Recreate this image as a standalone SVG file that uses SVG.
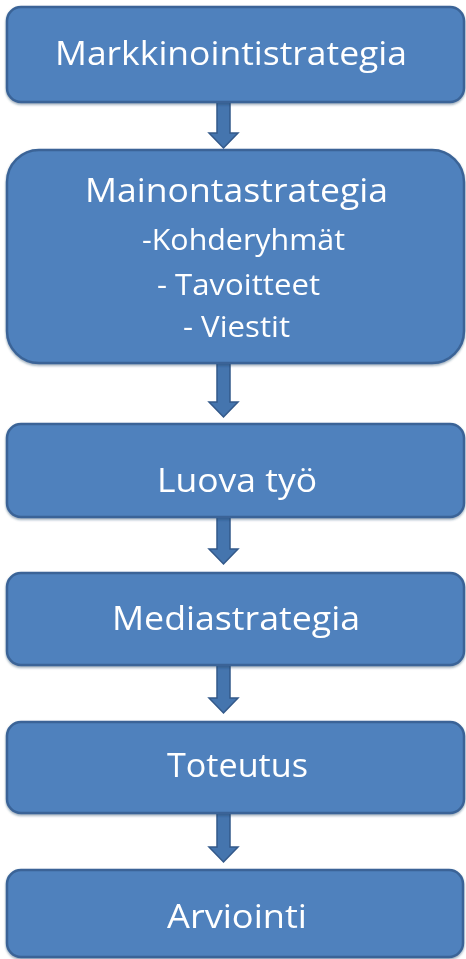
<svg xmlns="http://www.w3.org/2000/svg" width="466" height="959" viewBox="0 0 466 959">
  <style>
    .box { fill: #4F81BD; stroke: #3A6497; stroke-width: 2.5; }
    .lbl { fill: #FFFFFF; font-family: "Open Sans", "Liberation Sans", sans-serif; text-anchor: middle; }
    .big { font-size: 33px; }
    .sub { font-size: 29px; }
    .arrow { fill: #4575AE; stroke: #33598A; stroke-width: 1.5; stroke-linejoin: miter; }
  </style>
  <defs>
    <filter id="shadow" x="-5%" y="-5%" width="110%" height="115%">
      <feDropShadow dx="0" dy="1.5" stdDeviation="1.2" flood-color="#1F3A5F" flood-opacity="0.45"/>
    </filter>
  </defs>
  <rect width="466" height="959" fill="#FFFFFF"/>

  <g id="connectors">
    <path class="arrow" d="M217,102 H230 V133 H238 L223.5,148 L209,133 H217 Z"/>
    <path class="arrow" d="M217,363 H230 V402 H238 L223.5,417 L209,402 H217 Z"/>
    <path class="arrow" d="M217,517 H230 V549 H238 L223.5,564 L209,549 H217 Z"/>
    <path class="arrow" d="M217,665 H230 V698 H238 L223.5,713 L209,698 H217 Z"/>
    <path class="arrow" d="M217,813 H230 V847 H238 L223.5,862 L209,847 H217 Z"/>
  </g>

  <g id="markkinointistrategia" filter="url(#shadow)">
    <rect class="box" x="7" y="7" width="457" height="95" rx="14"/>
    <text class="lbl big" x="231" y="65" textLength="352" lengthAdjust="spacingAndGlyphs">Markkinointistrategia</text>
  </g>

  <g id="mainontastrategia" filter="url(#shadow)">
    <rect class="box" x="7" y="150" width="457" height="213" rx="32"/>
    <text class="lbl big" x="236.5" y="202" textLength="303" lengthAdjust="spacingAndGlyphs">Mainontastrategia</text>
    <text class="lbl sub" x="243.5" y="250" textLength="203" lengthAdjust="spacingAndGlyphs">-Kohderyhmät</text>
    <text class="lbl sub" x="238.5" y="295" textLength="163" lengthAdjust="spacingAndGlyphs">- Tavoitteet</text>
    <text class="lbl sub" x="236.5" y="337" textLength="107" lengthAdjust="spacingAndGlyphs">- Viestit</text>
  </g>

  <g id="luova-tyo" filter="url(#shadow)">
    <rect class="box" x="7" y="424" width="457" height="93" rx="14"/>
    <text class="lbl big" x="237" y="492" textLength="160" lengthAdjust="spacingAndGlyphs">Luova työ</text>
  </g>

  <g id="mediastrategia" filter="url(#shadow)">
    <rect class="box" x="7" y="573" width="457" height="92" rx="14"/>
    <text class="lbl big" x="236" y="630" textLength="248" lengthAdjust="spacingAndGlyphs">Mediastrategia</text>
  </g>

  <g id="toteutus" filter="url(#shadow)">
    <rect class="box" x="7" y="722" width="457" height="91" rx="14"/>
    <text class="lbl big" x="237.5" y="777" textLength="141" lengthAdjust="spacingAndGlyphs">Toteutus</text>
  </g>

  <g id="arviointi" filter="url(#shadow)">
    <rect class="box" x="7" y="870" width="456" height="87" rx="14"/>
    <text class="lbl big" x="237" y="928" textLength="140" lengthAdjust="spacingAndGlyphs">Arviointi</text>
  </g>
</svg>
